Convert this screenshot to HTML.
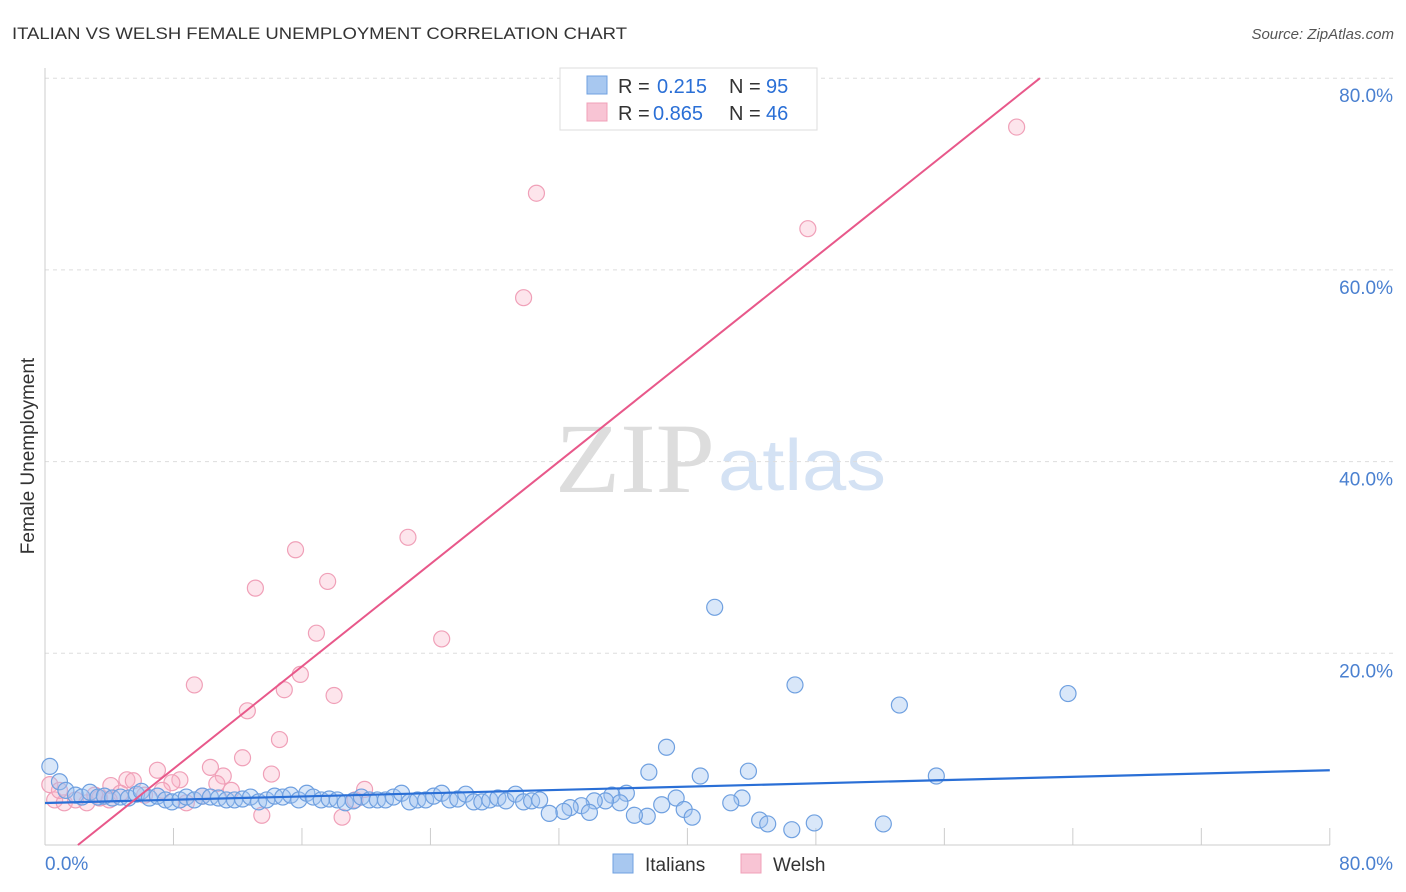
<!DOCTYPE html>
<html><head><meta charset="utf-8">
<style>
body{margin:0;background:#fff;font-family:"Liberation Sans",sans-serif;}
svg{display:block}
</style></head>
<body>
<svg id="chart" width="1406" height="892">
<text x="12" y="39" font-size="17" fill="#333" textLength="615" lengthAdjust="spacingAndGlyphs">ITALIAN VS WELSH FEMALE UNEMPLOYMENT CORRELATION CHART</text>
<text x="1394" y="39" font-size="15" fill="#555" font-style="italic" text-anchor="end">Source: ZipAtlas.com</text>
<text x="555" y="492" font-size="100" fill="#ddd" textLength="160" lengthAdjust="spacingAndGlyphs" font-family="Liberation Serif,serif">ZIP</text>
<text x="718" y="490" font-size="72" fill="#d4e2f4" textLength="168" lengthAdjust="spacingAndGlyphs">atlas</text>
<text transform="translate(34,456) rotate(-90)" font-size="19" fill="#333" text-anchor="middle">Female Unemployment</text>
<g id="grid"></g><g id="marks"></g>
<g>
<rect x="560" y="68" width="257" height="62" fill="#fff" stroke="#ddd"/>
<rect x="587" y="76" width="20" height="18" fill="#a8c8f0" stroke="#6fa0e0"/>
<text x="618" y="93" font-size="20" fill="#333">R =</text><text x="657" y="93" font-size="20" fill="#2a6fd6">0.215</text>
<text x="729" y="93" font-size="20" fill="#333">N =</text><text x="766" y="93" font-size="20" fill="#2a6fd6">95</text>
<rect x="587" y="103" width="20" height="18" fill="#f8c4d4" stroke="#f0a0b8"/>
<text x="618" y="120" font-size="20" fill="#333">R =</text><text x="653" y="120" font-size="20" fill="#2a6fd6">0.865</text>
<text x="729" y="120" font-size="20" fill="#333">N =</text><text x="766" y="120" font-size="20" fill="#2a6fd6">46</text>
</g>
<g>
<rect x="613" y="854" width="20" height="19" fill="#a8c8f0" stroke="#6fa0e0"/>
<text x="645" y="871" font-size="19" fill="#333">Italians</text>
<rect x="741" y="854" width="20" height="19" fill="#f8c4d4" stroke="#f0a0b8"/>
<text x="773" y="871" font-size="19" fill="#333">Welsh</text>
</g>
</svg>
<script>
const yTicks=[20,40,60,80];
const xTickLabels=["0.0%","80.0%"];
const blueX=[41.7,46.7,63.7,53.2,38.7,55.5,43.8,37.6,40.8,0.3,0.9,43.4,42.7,38.4,39.3,39.8,40.3,37.5,36.7,44.5,45.0,46.5,47.9,52.2,36.2,35.3,35.8,34.9,34.2,33.4,32.7,32.3,31.4,33.9,
1.3,1.9,2.3,2.8,3.3,3.7,4.2,4.7,5.2,5.7,6.0,6.5,7.0,7.5,7.9,8.4,8.8,9.3,9.8,10.3,10.8,11.3,11.8,12.3,12.8,13.3,13.8,14.3,14.8,15.3,15.8,16.3,16.7,17.2,17.7,18.2,18.7,19.2,19.7,20.2,20.7,21.2,21.7,22.2,22.7,23.2,23.7,24.2,24.7,25.2,25.7,26.2,26.7,27.2,27.7,28.2,28.7,29.3,29.8,30.3,30.8];
const blueY=[24.8,16.7,15.8,14.6,10.2,7.2,7.7,7.6,7.2,8.2,6.6,4.9,4.4,4.2,4.9,3.7,2.9,3.0,3.1,2.6,2.2,1.6,2.3,2.2,5.4,5.2,4.4,4.6,4.6,4.1,3.9,3.5,3.3,3.4,
5.7,5.2,5.0,5.5,5.0,5.1,4.9,5.0,4.9,5.3,5.6,4.9,5.1,4.7,4.5,4.7,5.0,4.7,5.1,5.0,4.9,4.7,4.7,4.8,5.0,4.5,4.7,5.1,5.0,5.2,4.7,5.4,5.0,4.7,4.8,4.7,4.4,4.6,5.0,4.7,4.7,4.7,5.0,5.4,4.5,4.7,4.7,5.1,5.4,4.7,4.8,5.3,4.5,4.5,4.7,4.9,4.6,5.3,4.5,4.6,4.7];
const pinkX=[60.5,30.6,47.5,29.8,22.6,15.6,17.6,13.1,16.9,24.7,9.3,15.9,14.9,18.0,12.6,14.6,12.3,10.3,7.0,14.1,11.1,8.4,5.1,5.5,4.1,7.9,10.7,19.9,11.6,0.3,0.6,1.2,1.9,2.6,3.4,6.2,7.3,8.8,9.8,13.5,18.5,19.3,4.7,0.9,3.1,4.0];
const pinkY=[74.9,68.0,64.3,57.1,32.1,30.8,27.5,26.8,22.1,21.5,16.7,17.8,16.2,15.6,14.0,11.0,9.1,8.1,7.8,7.4,7.2,6.8,6.8,6.7,6.2,6.5,6.4,5.8,5.7,6.3,4.7,4.4,4.7,4.4,4.9,5.2,5.7,4.4,5.1,3.1,2.9,4.7,5.4,5.7,5.2,4.7];
const blueLine=[4.38,7.8];     // y at x=0 and x=80
const pinkLine=[2.05,61.95];   // x at y=0 and y=80
const NS="http://www.w3.org/2000/svg";
const X=v=>45+v*16.06, Y=v=>845-v*9.585;
function mk(tag,attrs,parent){const e=document.createElementNS(NS,tag);for(const k in attrs)e.setAttribute(k,attrs[k]);parent.appendChild(e);return e;}
const grid=document.getElementById('grid'), marks=document.getElementById('marks');
yTicks.forEach(t=>{
 const l=mk('line',{x1:45,x2:1394,y1:Y(t),y2:Y(t),stroke:'#ddd','stroke-dasharray':'4,4'},grid);
 
 
 const tx=mk('text',{x:1393,y:Y(t)+24,'font-size':19,fill:'#4a80d0','text-anchor':'end'},grid);
 tx.textContent=t.toFixed(1)+'%';
 
 
});
const ax=mk('line',{x1:45,x2:45,y1:68,y2:845,stroke:'#ccc'},grid);


const bx=mk('line',{x1:45,x2:1330,y1:845,y2:845,stroke:'#ccc'},grid);


for(let i=0;i<=10;i++){const t=mk('line',{x1:X(i*8),x2:X(i*8),y1:828,y2:845,stroke:'#ccc'},grid);
 
 }
[[0,'start',45],[80,'end',1393]].forEach((d,i)=>{const t=mk('text',{x:d[2],y:870,'font-size':19,fill:'#4a80d0','text-anchor':d[1]},grid);t.textContent=xTickLabels[i];
 
 });
pinkX.forEach((x,i)=>{const c=mk('circle',{cx:X(x),cy:Y(pinkY[i]),r:8,fill:'rgba(248,180,200,0.35)',stroke:'#f0a0b8','stroke-width':1.2},marks);
 
 });
blueX.forEach((x,i)=>{const c=mk('circle',{cx:X(x),cy:Y(blueY[i]),r:8,fill:'rgba(160,196,240,0.4)',stroke:'#6fa0e0','stroke-width':1.2},marks);
 
 });
const bl=mk('line',{x1:X(0),y1:Y(blueLine[0]),x2:X(80),y2:Y(blueLine[1]),stroke:'#2a6fd6','stroke-width':2.2},marks);


const pl=mk('line',{x1:X(pinkLine[0]),y1:Y(0),x2:X(pinkLine[1]),y2:Y(80),stroke:'#e8588a','stroke-width':2},marks);


</script>
</body></html>
